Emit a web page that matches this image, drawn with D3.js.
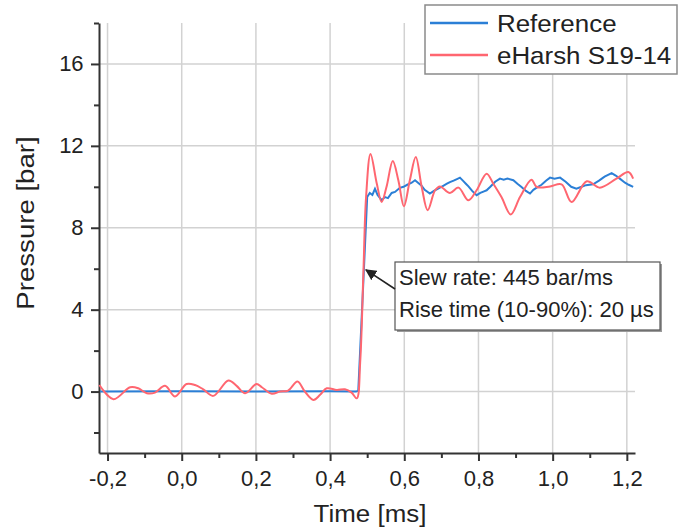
<!DOCTYPE html>
<html>
<head>
<meta charset="utf-8">
<script src="https://cdn.jsdelivr.net/npm/d3@7/dist/d3.min.js"></script>
<style>
  body { margin: 0; background: #fff; }
  text { font-family: "Liberation Sans", Arial, sans-serif; fill: #222; }
</style>
</head>
<body>
<svg id="chart" width="685" height="532"></svg>
<script>
// Pressure step response
var seriesNames = ["Reference", "eHarsh S19-14"];
var seriesColors = ["#2b7fd6", "#ff6670"];

var referenceData = [
    [-0.22, 0], [0.0, 0.01], [0.2, 0], [0.4, 0.01], [0.47, 0], [0.476, 0.05], [0.49, 5.5], [0.5, 9.5],
    [0.507, 9.7], [0.514, 9.6], [0.521, 9.9], [0.528, 9.6], [0.539, 9.35], [0.548, 9.5], [0.556, 9.45],
    [0.566, 9.7], [0.575, 9.75], [0.588, 9.95], [0.598, 10.0], [0.608, 10.1], [0.62, 10.2], [0.629, 10.32],
    [0.637, 10.2], [0.646, 10.07], [0.655, 9.85], [0.669, 9.67], [0.68, 9.8], [0.69, 9.9], [0.696, 9.96],
    [0.705, 10.05], [0.715, 10.15], [0.723, 10.23], [0.733, 10.3], [0.742, 10.38], [0.75, 10.45],
    [0.758, 10.3], [0.766, 10.15], [0.773, 10.02], [0.783, 9.8], [0.795, 9.59], [0.805, 9.7], [0.815, 9.78],
    [0.822, 9.83], [0.832, 10.0], [0.845, 10.25], [0.858, 10.4], [0.868, 10.35], [0.878, 10.4], [0.894, 10.32],
    [0.905, 10.15], [0.916, 9.99], [0.928, 9.8], [0.939, 9.67], [0.948, 9.85], [0.957, 9.96], [0.97, 10.1],
    [0.982, 10.3], [0.993, 10.45], [1.005, 10.4], [1.02, 10.45], [1.035, 10.25], [1.05, 10.0], [1.064, 9.91],
    [1.078, 10.0], [1.09, 10.08], [1.109, 10.12], [1.125, 10.3], [1.14, 10.5], [1.159, 10.67], [1.17, 10.55],
    [1.181, 10.4], [1.195, 10.2], [1.205, 10.1], [1.217, 10.0]
];

var eHarshData = [
    [-0.222, 0.32], [-0.184, -0.37], [-0.139, 0.21], [-0.117, 0.16], [-0.094, -0.08], [-0.072, -0.05],
    [-0.045, 0.28], [-0.018, -0.24], [0.013, 0.37], [0.036, 0.32], [0.058, 0.11], [0.085, -0.21],
    [0.126, 0.54], [0.148, 0.28], [0.171, -0.08], [0.202, 0.37], [0.216, 0.21], [0.243, -0.11], [0.265, 0],
    [0.287, 0.05], [0.312, 0.49], [0.332, 0], [0.355, -0.41], [0.373, -0.16], [0.391, 0.16], [0.418, 0.08],
    [0.44, 0.11], [0.458, -0.05], [0.472, -0.33], [0.481, 1.4], [0.49, 5.94], [0.497, 9.5], [0.509, 11.6],
    [0.526, 10.15], [0.539, 9.26], [0.552, 9.99], [0.569, 11.26], [0.584, 10.32], [0.599, 9.05],
    [0.615, 10.32], [0.631, 11.45], [0.647, 9.99], [0.663, 8.86], [0.683, 9.83], [0.696, 10.02],
    [0.723, 9.7], [0.746, 9.96], [0.773, 9.34], [0.795, 9.83], [0.822, 10.64], [0.84, 10.15], [0.862, 9.5],
    [0.887, 8.65], [0.912, 9.5], [0.943, 10.35], [0.957, 9.99], [0.993, 10.02], [1.024, 10.12],
    [1.051, 9.26], [1.092, 10.27], [1.127, 9.96], [1.172, 10.4], [1.204, 10.72], [1.217, 10.4]
];

var xMajorTicks = [-0.2, 0.0, 0.2, 0.4, 0.6, 0.8, 1.0, 1.2];
var xMinorTicks = [-0.1, 0.1, 0.3, 0.5, 0.7, 0.9, 1.1];
var yMajorTicks = [0, 4, 8, 12, 16];
var yMinorTicks = [-2, 2, 6, 10, 14, 18];

var annotationLines = ["Slew rate: 445 bar/ms", "Rise time (10-90%): 20 µs"];
var annotationTip = [0.494, 5.94];

var svg = d3.select("#chart");
var margin = { left: 99, right: 50, top: 23, bottom: 79 };
var width = 685, height = 532;

var xScale = d3.scaleLinear()
    .domain([-0.223, 1.222])
    .range([margin.left, width - margin.right]);
var yScale = d3.scaleLinear()
    .domain([-3, 18])
    .range([height - margin.bottom, margin.top]);

// decimal comma and a plain hyphen for the minus sign
var fmt = function (d) { return d.toFixed(1).replace(".", ","); };

// Grid lines
var grid = svg.append("g").attr("stroke", "#d2d2d2").attr("stroke-width", 1.5);
grid.selectAll("line.gx").data(xMajorTicks).enter().append("line")
    .attr("x1", d => xScale(d)).attr("x2", d => xScale(d))
    .attr("y1", yScale.range()[0]).attr("y2", yScale.range()[1]);
grid.selectAll("line.gy").data(yMajorTicks).enter().append("line")
    .attr("y1", d => yScale(d)).attr("y2", d => yScale(d))
    .attr("x1", xScale.range()[0]).attr("x2", xScale.range()[1]);

// Axes
var xAxis = svg.append("g")
    .attr("transform", "translate(0," + yScale(-3) + ")")
    .call(d3.axisBottom(xScale).tickValues(xMajorTicks).tickFormat(fmt).tickSize(8).tickSizeOuter(0));
svg.append("g")
    .attr("transform", "translate(0," + yScale(-3) + ")")
    .call(d3.axisBottom(xScale).tickValues(xMinorTicks).tickFormat("").tickSize(5).tickSizeOuter(0))
    .select(".domain").remove();
var yAxis = svg.append("g")
    .attr("transform", "translate(" + xScale(-0.223) + ",0)")
    .call(d3.axisLeft(yScale).tickValues(yMajorTicks).tickSize(8).tickSizeOuter(0));
svg.append("g")
    .attr("transform", "translate(" + xScale(-0.223) + ",0)")
    .call(d3.axisLeft(yScale).tickValues(yMinorTicks).tickFormat("").tickSize(5).tickSizeOuter(0))
    .select(".domain").remove();

svg.selectAll(".domain, .tick line").attr("stroke", "#333").attr("stroke-width", 2);
xAxis.selectAll(".tick text").attr("font-size", 22).attr("dy", "1.0em").attr("fill", "#222");
yAxis.selectAll(".tick text").attr("font-size", 22).attr("dx", "-0.2em").attr("fill", "#222");

// Curves
var line = d3.line()
    .x(d => xScale(d[0]))
    .y(d => yScale(d[1]));

svg.append("path")
    .datum(referenceData)
    .attr("fill", "none")
    .attr("stroke", seriesColors[0])
    .attr("stroke-width", 2)
    .attr("d", line.curve(d3.curveLinear));

svg.append("path")
    .datum(eHarshData)
    .attr("fill", "none")
    .attr("stroke", seriesColors[1])
    .attr("stroke-width", 2)
    .attr("d", line.curve(d3.curveCatmullRom.alpha(0.5)));

// Axis titles
var sx = 1.08;
svg.append("text")
    .attr("transform", "translate(370,522) scale(" + sx + ",1)")
    .attr("text-anchor", "middle")
    .attr("font-size", 24)
    .text("Time [ms]");
svg.append("text")
    .attr("transform", "translate(34,223) rotate(-90) scale(1.15,1)")
    .attr("text-anchor", "middle")
    .attr("font-size", 24)
    .text("Pressure [bar]");

// Legend
var legend = svg.append("g");
legend.append("rect")
    .attr("x", 425).attr("y", 5).attr("width", 252).attr("height", 69)
    .attr("fill", "#fff").attr("stroke", "#8a8a8a").attr("stroke-width", 1.5);
seriesNames.forEach(function (name, i) {
    var ly = 23 + i * 32;
    legend.append("line")
        .attr("x1", 430).attr("x2", 488).attr("y1", ly).attr("y2", ly)
        .attr("stroke", seriesColors[i]).attr("stroke-width", 2.5);
    legend.append("text")
        .attr("transform", "translate(497," + (ly + 9) + ") scale(1.08,1)")
        .attr("font-size", 24)
        .text(name);
});

// Annotation with arrow
var defs = svg.append("defs");
defs.append("marker")
    .attr("id", "arrow")
    .attr("viewBox", "0 0 10 10")
    .attr("refX", 9).attr("refY", 5)
    .attr("markerWidth", 7).attr("markerHeight", 7)
    .attr("orient", "auto")
    .append("path").attr("d", "M0,0 L10,5 L0,10 z").attr("fill", "#222");

var box = { x: 395, y: 262, w: 265, h: 68 };
svg.append("rect")
    .attr("x", box.x + 2).attr("y", box.y + 2).attr("width", box.w).attr("height", box.h)
    .attr("fill", "#9a9a9a");
svg.append("rect")
    .attr("x", box.x).attr("y", box.y).attr("width", box.w).attr("height", box.h)
    .attr("fill", "#fff").attr("stroke", "#555").attr("stroke-width", 1.2);
svg.append("line")
    .attr("x1", box.x).attr("y1", box.y + 27)
    .attr("x2", xScale(annotationTip[0]) + 1).attr("y2", yScale(annotationTip[1]))
    .attr("stroke", "#222").attr("stroke-width", 1.6)
    .attr("marker-end", "url(#arrow)");
annotationLines.forEach(function (t, i) {
    svg.append("text")
        .attr("x", box.x + 4).attr("y", box.y + 23 + i * 32)
        .attr("font-size", 22)
        .text(t);
});
</script>
</body>
</html>
